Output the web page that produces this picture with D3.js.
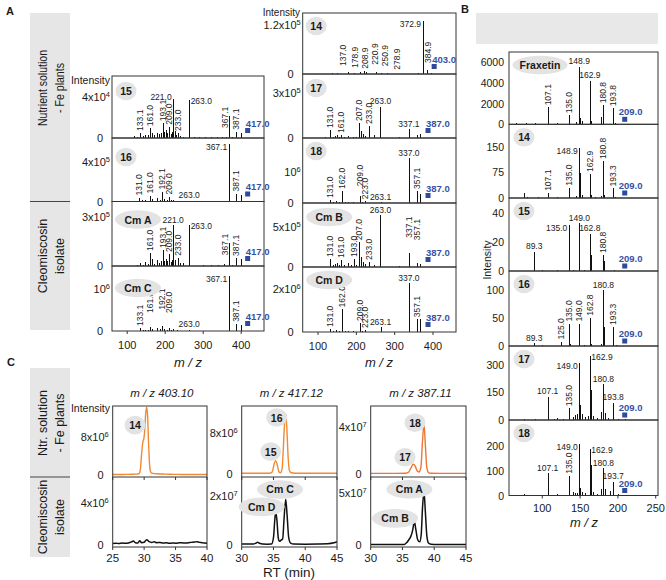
<!DOCTYPE html>
<html><head><meta charset="utf-8">
<script src="https://cdn.jsdelivr.net/npm/d3@7"></script>
<style>
body{margin:0;background:#fff}
svg{display:block}
text{font-family:"Liberation Sans",Arial,Helvetica,sans-serif;fill:#1a1a1a}
</style></head><body>
<svg id="c" width="666" height="580"></svg>
<script>
// ================= DATA =================
const mzTicksA = [100, 200, 300, 400];
const mzTicksB = [100, 150, 200, 250];
const rtTicksL = [25, 30, 35, 40];
const rtTicksR = [30, 35, 40, 45];

// ---- Panel A, Nutrient solution -Fe plants ----
const specA15 = [[118,1500],[125,1000],[133.1,5000],[141,2000],[148,3000],[155,2500],[161.0,9500],[165,5000],[171,3000],[178,4500],[184,3500],[188,5000],[193.1,14500],[198,6000],[203,8000],[206,5000],[209.0,11000],[214,4000],[218,6000],[221.0,38000],[226,7000],[229,3000],[233.0,5000],[240,2000],[248,1000],[263.0,37000],[275,800],[290,800],[305,700],[320,800],[335,900],[350,1000],[360,1200],[367.1,21500],[375,1000],[387.1,6000],[400,5000]];
const labA15 = [[133.1,'v'],[161.0,'v'],[193.1,'v'],[209.0,'v'],[221.0,'hl',43000],[233.0,'v'],[263.0,'hr'],[367.1,'vl'],[387.1,'v']];
const specA16 = [[118,10000],[131.0,40000],[140,15000],[148,20000],[155,10000],[161.0,60000],[166,25000],[178,35000],[185,20000],[192.1,100000],[198,25000],[204,15000],[209.0,50000],[214,15000],[221,20000],[232,10000],[263.0,10000],[300,5000],[340,5000],[367.1,580000],[387.1,80000],[400,70000]];
const labA16 = [[131.0,'v'],[161.0,'v'],[192.1,'v'],[209.0,'v'],[263.0,'h'],[367.1,'hl'],[387.1,'v']];
const specA14 = [[137.0,2500],[150,1500],[178.9,4000],[195,1500],[208.9,5000],[220.9,7000],[226,4000],[250.9,4000],[265,1500],[278.9,2500],[300,1000],[340,1000],[360,2000],[372.9,130000],[384.9,10000],[395,2000]];
const labA14 = [[137.0,'v',14700,165],[178.9,'v',9800,197],[208.9,'v',8000,223],[220.9,'v',18000,248],[250.9,'v',14000,274],[278.9,'v',5600,307],[372.9,'hl'],[384.9,'v',22000,388]];
const specA17 = [[118,5000],[131.0,53000],[138,10000],[145,15000],[150,20000],[155,8000],[161.0,20000],[168,8000],[178,15000],[190,10000],[200,8000],[207.0,100000],[213,50000],[218,25000],[222,15000],[233.0,80000],[246,20000],[263.0,207000],[280,3000],[310,4000],[337.1,60000],[357,20000],[367,27000]];
const labA17 = [[131.0,'v'],[161.0,'v'],[207.0,'v'],[233.0,'v'],[263.0,'h'],[337.1,'h']];
const specA18 = [[118,10000],[131.0,100000],[140,30000],[148,60000],[155,30000],[162.0,390000],[170,20000],[178,30000],[190,20000],[200,15000],[209.0,220000],[215,30000],[223.0,60000],[240,10000],[263.1,30000],[300,10000],[337.0,1440000],[357.1,390000],[367,290000]];
const labA18 = [[131.0,'v'],[162.0,'v'],[209.0,'v',480000],[223.0,'v'],[263.1,'h'],[337.0,'h'],[357.1,'v']];

// ---- Panel A, Cleomiscosin isolate ----
const specCmA = [[118,3000],[125,6000],[133,18000],[141,6000],[148,24000],[155,12000],[161.0,80000],[166,40000],[171,15000],[178,37000],[184,20000],[188,30000],[193.1,98000],[198,30000],[203,40000],[206,30000],[209.0,73000],[214,25000],[218,35000],[221.0,250000],[227,37000],[233.0,50000],[240,20000],[247,18000],[263.0,250000],[280,3000],[300,5000],[320,6000],[340,8000],[355,10000],[367.1,140000],[375,6000],[387.1,49000],[400,43000]];
const labCmA = [[161.0,'v'],[193.1,'v'],[209.0,'v'],[221.0,'h'],[233.0,'v'],[263.0,'hr'],[367.1,'vl'],[387.1,'v']];
const specCmC = [[118,10000],[133.1,70000],[141,20000],[148,30000],[155,20000],[161.0,95000],[166,40000],[178,70000],[185,50000],[192.1,120000],[198,40000],[204,30000],[209.0,70000],[214,20000],[221,40000],[232,20000],[263.0,24000],[300,10000],[340,10000],[367.1,1310000],[387.1,170000],[400,140000]];
const labCmC = [[133.1,'v'],[161.0,'v',380000],[192.1,'v',460000],[209.0,'v',380000],[263.0,'h'],[367.1,'hl'],[387.1,'v']];
const specCmB = [[118,5000],[131.0,100000],[138,25000],[145,40000],[150,50000],[155,20000],[161.0,87500],[168,20000],[178,50000],[185,20000],[193.0,100000],[200,30000],[207.0,310000],[213,125000],[218,60000],[222,40000],[233.0,62000],[246,25000],[263.0,650000],[280,5000],[310,8000],[337.1,170000],[357.1,50000],[367,40000]];
const labCmB = [[131.0,'v'],[161.0,'v'],[193.0,'v'],[207.0,'v'],[233.0,'v'],[263.0,'h'],[337.1,'v',340000],[357.1,'v',310000]];
const specCmD = [[118,20000],[131.0,140000],[140,50000],[148,90000],[155,40000],[162.0,1050000],[170,30000],[178,50000],[190,30000],[200,20000],[209.0,420000],[215,50000],[223.0,90000],[240,20000],[263.1,230000],[300,10000],[337.0,2260000],[357.1,590000],[367,590000]];
const labCmD = [[131.0,'v'],[162.0,'v'],[209.0,'v'],[223.0,'v'],[263.1,'h'],[337.0,'h'],[357.1,'v']];

// ---- Panel B (MS3 of the 209 fragment) ----
const specBFx = [[65,100],[79,80],[91,100],[107.1,1640],[120,100],[135.0,870],[145,200],[148.9,5550],[150.5,600],[153,300],[162.9,4200],[164.5,300],[177,700],[180.8,1850],[193.8,1550],[196,100]];
const labBFx = [[107.1,'v'],[135.0,'v'],[148.9,'h'],[162.9,'h'],[180.8,'v'],[193.8,'v']];
const specB14 = [[76,14],[80,3],[95,2],[107.1,15],[120,2],[135.0,30],[145,5],[148.9,145],[150.3,73],[153,8],[162.9,70],[164.5,8],[170,3],[177,5],[180.8,108],[182,10],[193.3,28],[196,3]];
const labB14 = [[107.1,'v'],[135.0,'v'],[148.9,'hl'],[162.9,'v'],[180.8,'v'],[193.3,'v']];
const specB15 = [[89.3,13.3],[100,0.5],[120,0.5],[135.0,31.7],[140,0.8],[149.0,32.9],[155,0.8],[162.8,25.5],[165,11],[180.8,11],[182,7],[195,0.5]];
const labB15 = [[89.3,'h'],[135.0,'hl'],[149.0,'h'],[162.8,'h'],[180.8,'v']];
const specB16 = [[89.3,5],[100,1],[125.0,8],[135.0,40],[137,3],[149.0,40],[155,2],[162.8,50.5],[165,4],[177,3],[180.8,100],[182,34],[193.3,34],[197,1]];
const labB16 = [[89.3,'h'],[125.0,'v'],[135.0,'v'],[149.0,'v'],[162.8,'v'],[180.8,'h'],[193.3,'v']];
const specB17 = [[76,8],[90,5],[107.1,127],[115,5],[120,10],[128,5],[135.0,64],[140,15],[143,25],[146,30],[149.0,309],[150.5,80],[153,30],[156,15],[160,20],[162.9,350],[164.3,164],[167,20],[172,10],[178,45],[180.8,196],[182.5,40],[187,10],[193.8,94],[200,8],[210,3]];
const labB17 = [[107.1,'h'],[135.0,'v'],[149.0,'hl'],[162.9,'hr'],[180.8,'h'],[193.8,'h']];
const specB18 = [[76,5],[90,3],[107.1,89],[115,3],[120,5],[128,3],[135.0,79],[140,16],[143,10],[146,12],[149.0,205],[150.5,30],[153,15],[157,10],[162.9,187],[164.3,123],[167,15],[172,8],[178,28],[180.8,109],[183,25],[190,20],[193.7,56],[200,5]];
const labB18 = [[107.1,'h'],[135.0,'v'],[149.0,'hl'],[162.9,'hr'],[180.8,'h'],[193.7,'h']];

// ---- Panel C chromatograms [RT min, intensity] ----
const eic403Fe = [[25,1.2e5],[26,1.0e5],[27,1.3e5],[28,1.5e5],[28.8,1.8e5],[29.2,3e5],[29.4,1.2e6],[29.6,4.5e6],[29.8,7e6],[29.95,7.6e6],[30.1,9.5e6],[30.25,1.3e7],[30.4,1.43e7],[30.55,1.25e7],[30.7,7e6],[30.85,2.5e6],[31.0,8e5],[31.2,4e5],[31.6,3e5],[32,2.5e5],[33,2e5],[34,1.5e5],[35,1.3e5],[36,1.2e5],[37,1.2e5],[38,1.1e5],[39,1.1e5],[40,1e5]];
const eic403Cm = [[25,1.5e5],[25.5,1.7e5],[26,1.4e5],[26.5,1.8e5],[27,1.6e5],[27.5,2e5],[28,3e5],[28.3,3.8e5],[28.6,2.2e5],[29,2e5],[29.3,4e5],[29.6,2.2e5],[30,2.6e5],[30.4,5e5],[30.8,3.2e5],[31.2,2.5e5],[31.6,3e5],[32,2.2e5],[32.5,2.4e5],[33,1.9e5],[33.5,2.1e5],[34,1.6e5],[34.5,1.9e5],[35,1.7e5],[35.5,2e5],[36,2.2e5],[36.5,1.8e5],[37,2.1e5],[37.5,2.5e5],[38,2.8e5],[38.4,3.2e5],[38.8,2.5e5],[39.2,2.2e5],[39.6,1.8e5],[40,1.6e5]];
const eic417Fe = [[30,2e5],[31,2e5],[32,2.2e5],[33,2e5],[34,2.1e5],[34.6,2.5e5],[34.9,8e5],[35.1,2e6],[35.35,2.65e6],[35.6,1.8e6],[35.85,5e5],[36.1,3e5],[36.35,1e6],[36.55,5e6],[36.75,1e7],[36.93,1.17e7],[37.1,9e6],[37.3,3.5e6],[37.5,8e5],[37.8,3e5],[38.5,2.2e5],[40,2e5],[42,2.1e5],[44,2e5],[45,2e5]];
const eic417Cm = [[30,4e5],[31,4e5],[31.8,4e5],[32.2,7e5],[32.5,1.1e6],[32.8,7e5],[33.3,4e5],[34,3.5e5],[34.7,4e5],[35.0,3e6],[35.2,1e7],[35.35,1.36e7],[35.55,1e7],[35.75,3e6],[35.95,1.5e6],[36.2,2e6],[36.45,2.5e6],[36.65,1e7],[36.93,1.87e7],[37.15,1.2e7],[37.4,3e6],[37.7,8e5],[38.2,4e5],[40,3.5e5],[42,4e5],[43.5,5e5],[44.5,9e5],[45,1.4e6]];
const eic387Fe = [[30,8e5],[32,8e5],[34,8e5],[35.5,9e5],[36.0,2e6],[36.3,5e6],[36.7,8.5e6],[37.0,7e6],[37.3,3e6],[37.6,2e6],[37.9,6e6],[38.15,2.8e7],[38.39,4.33e7],[38.6,2.5e7],[38.85,5e6],[39.1,1.5e6],[39.5,9e5],[41,8e5],[43,8e5],[45,8e5]];
const eic387Cm = [[30,5e5],[32,5e5],[34,5e5],[35.3,6e5],[35.7,2.5e6],[36.0,5e6],[36.3,8e6],[36.6,1.4e7],[36.87,2.24e7],[37.1,1.5e7],[37.4,5e6],[37.7,3e6],[37.95,1e7],[38.15,3.5e7],[38.39,5.12e7],[38.6,3.2e7],[38.85,8e6],[39.1,2e6],[39.5,8e5],[40.5,5e5],[42.5,5e5],[45,5e5]];
// peak name tags [text, RT, intensity level]
const tags403Fe = [["14",28.55,1.05e7]];
const tags417Fe = [["16",35.5,1.1e7],["15",34.56,4.4e6]];
const tags387Fe = [["18",36.97,4.39e7],["17",35.4,1.45e7]];
const tags417Cm = [["Cm C",36.03,2.27e7],["Cm D",33.15,1.56e7]];
const tags387Cm = [["Cm A",36.08,5.33e7],["Cm B",33.83,2.55e7]];

// ================= DRAW =================
const svg = d3.select('#c');
const BLUE = '#2d4a9b';
const ORANGE = '#f08a34';

function supText(sel, base, exp) {
  sel.append('tspan').text(base);
  if (exp) sel.append('tspan').attr('dy', -4).attr('font-size', '0.68em').text(exp);
}

function nameTag(g, cx, cy, txt) {
  const rx = txt.length > 4 ? 27.5 : (txt.length > 2 ? 23 : 10.5);
  g.append('ellipse').attr('cx', cx).attr('cy', cy).attr('rx', rx).attr('ry', 9.3).attr('fill', '#e3e3e3');
  g.append('text').attr('x', cx).attr('y', cy + 4).attr('text-anchor', 'middle')
    .attr('font-size', 10.5).attr('font-weight', 'bold').text(txt);
}

function spectrum(c) {
  const g = svg.append('g');
  const x = d3.scaleLinear().domain(c.xDomain).range([c.x0, c.x1]);
  const y = d3.scaleLinear().domain([0, c.yMax]).range([c.base, c.top]);
  const px = v => Math.round(x(v)) + 0.5;
  g.append('g').selectAll('line').data(c.peaks).join('line')
    .attr('x1', d => px(d[0])).attr('x2', d => px(d[0]))
    .attr('y1', y(0)).attr('y2', d => y(d[1]))
    .attr('stroke', '#111').attr('stroke-width', 1).attr('shape-rendering', 'crispEdges');
  g.append('rect').attr('x', c.x0).attr('y', c.top).attr('width', c.x1 - c.x0).attr('height', c.base - c.top)
    .attr('fill', 'none').attr('stroke', '#333').attr('stroke-width', 1);
  const fs = c.labelFs;
  c.labels.forEach(([mz, mode, level, atMz]) => {
    const pk = c.peaks.find(p => p[0] === mz);
    const lv = level != null ? level : pk[1];
    const lx = x(atMz != null ? atMz : mz), ly = y(lv);
    const t = g.append('text').attr('font-size', fs).text(mz.toFixed(1));
    if (mode === 'v') t.attr('transform', `translate(${lx + fs * 0.36},${ly - 2}) rotate(-90)`);
    else if (mode === 'vl') t.attr('transform', `translate(${lx - 1},${ly + 12}) rotate(-90)`);
    else if (mode === 'h') t.attr('x', lx).attr('y', ly - 2.5).attr('text-anchor', 'middle');
    else if (mode === 'hl') t.attr('x', lx - 1.5).attr('y', ly + 6).attr('text-anchor', 'end');
    else if (mode === 'hr') t.attr('x', lx + 1.5).attr('y', ly + 4);
  });
  // precursor marker
  const mx = x(c.prec), my = c.base - c.precDy;
  g.append('rect').attr('x', mx - 2.5).attr('y', my - 2.5).attr('width', 5).attr('height', 5).attr('fill', BLUE);
  g.append('text').attr('x', mx + c.precLx).attr('y', my - 4).attr('font-size', c.precFs).attr('font-weight', 'bold')
    .style('fill', '#3552a5').text(c.prec.toFixed(1));
  // y ticks
  c.yTicks.forEach(([v, b, e]) => {
    const t = g.append('text').attr('x', v === 0 ? c.x0 - c.zeroGap : c.x0 - c.tickGap).attr('y', y(v) + 4)
      .attr('text-anchor', 'end').attr('font-size', c.tickFs);
    supText(t, b, e);
  });
  if (c.name) nameTag(g, c.x0 + c.nameDx, c.top + c.nameDy, c.name);
  return x;
}

// ---- Panel A layout ----
const A_DOM = [60, 460];
const AL = {x0: 112, x1: 264}, AR = {x0: 302.7, x1: 456};
const aCommon = {xDomain: A_DOM, labelFs: 8.5, precDy: 7.5, precLx: -2, precFs: 9.5, tickFs: 11, tickGap: 2, zeroGap: 9};
const aLeft = [
  {top: 76, base: 138, yMax: 6.05e4, peaks: specA15, labels: labA15, prec: 417.0, yTicks: [[4e4, '4x10', '4'], [0, '0']], name: '15', nameDy: 15},
  {top: 138, base: 201.5, yMax: 6.35e5, peaks: specA16, labels: labA16, prec: 417.0, yTicks: [[4e5, '4x10', '5'], [0, '0']], name: '16', nameDy: 19},
  {top: 201.5, base: 266, yMax: 3.95e5, peaks: specCmA, labels: labCmA, prec: 417.0, yTicks: [[3e5, '3x10', '5'], [0, '0']], name: 'Cm A', nameDy: 18},
  {top: 266, base: 331, yMax: 1.55e6, peaks: specCmC, labels: labCmC, prec: 417.0, yTicks: [[1e6, '10', '6'], [0, '0']], name: 'Cm C', nameDy: 22}
];
const aRight = [
  {top: 13, base: 74, yMax: 1.49e5, peaks: specA14, labels: labA14, prec: 403.0, yTicks: [[1.2e5, '1.2x10', '5'], [0, '0']], name: '14', nameDy: 13},
  {top: 74, base: 138, yMax: 4.27e5, peaks: specA17, labels: labA17, prec: 387.0, yTicks: [[3e5, '3x10', '5'], [0, '0']], name: '17', nameDy: 14},
  {top: 138, base: 203, yMax: 2.1e6, peaks: specA18, labels: labA18, prec: 387.0, yTicks: [[1e6, '10', '6'], [0, '0']], name: '18', nameDy: 13},
  {top: 203, base: 267, yMax: 8e5, peaks: specCmB, labels: labCmB, prec: 387.0, yTicks: [[5e5, '5x10', '5'], [0, '0']], name: 'Cm B', nameDy: 14},
  {top: 267, base: 332, yMax: 3.02e6, peaks: specCmD, labels: labCmD, prec: 387.0, yTicks: [[2e6, '2x10', '6'], [0, '0']], name: 'Cm D', nameDy: 13}
];
let xAL, xAR;
aLeft.forEach(p => { xAL = spectrum(Object.assign({}, aCommon, AL, p, {nameDx: p.name.length > 2 ? 26 : 14})); });
aRight.forEach(p => { xAR = spectrum(Object.assign({}, aCommon, AR, p, {nameDx: p.name.length > 2 ? 26.5 : 13.5})); });

function xAxisA(x, base, cx) {
  const g = svg.append('g');
  mzTicksA.forEach(v => {
    g.append('line').attr('x1', x(v)).attr('x2', x(v)).attr('y1', base).attr('y2', base + 3).attr('stroke', '#333');
    g.append('text').attr('x', x(v)).attr('y', base + 18).attr('text-anchor', 'middle').attr('font-size', 11).text(v);
  });
  g.append('text').attr('x', cx).attr('y', 367).attr('text-anchor', 'middle').attr('font-size', 13)
    .attr('font-style', 'italic').text('m / z');
}
xAxisA(xAL, 331, 188);
xAxisA(xAR, 332, 379);
svg.append('text').attr('x', 110).attr('y', 84).attr('text-anchor', 'end').attr('font-size', 10.5).text('Intensity');
svg.append('text').attr('x', 300).attr('y', 16).attr('text-anchor', 'end').attr('font-size', 10).text('Intensity');

// ---- Panel B ----
const BX = {x0: 509, x1: 658};
const bCommon = {xDomain: [56, 253], labelFs: 8.5, precDy: 5, precLx: -6, precFs: 9.5, tickFs: 10.5, tickGap: 5, zeroGap: 5};
const bRows = [
  {top: 52, base: 124.3, yMax: 6997, peaks: specBFx, labels: labBFx, yTicks: [[6000, '6000'], [4000, '4000'], [2000, '2000'], [0, '0']], name: 'Fraxetin', nameDx: 31},
  {top: 124.3, base: 198, yMax: 215.5, peaks: specB14, labels: labB14, yTicks: [[150, '150'], [75, '75'], [0, '0']], name: '14'},
  {top: 198, base: 271, yMax: 50.1, peaks: specB15, labels: labB15, yTicks: [[40, '40'], [20, '20'], [0, '0']], name: '15'},
  {top: 271, base: 346, yMax: 134, peaks: specB16, labels: labB16, yTicks: [[100, '100'], [50, '50'], [0, '0']], name: '16'},
  {top: 346, base: 420, yMax: 403.6, peaks: specB17, labels: labB17, yTicks: [[300, '300'], [150, '150'], [0, '0']], name: '17'},
  {top: 420, base: 495.5, yMax: 303, peaks: specB18, labels: labB18, yTicks: [[200, '200'], [100, '100'], [0, '0']], name: '18'}
];
let xB;
bRows.forEach(p => { xB = spectrum(Object.assign({}, bCommon, BX, {prec: 209.0, nameDx: 15, nameDy: 13}, p)); });
mzTicksB.forEach(v => {
  svg.append('line').attr('x1', xB(v)).attr('x2', xB(v)).attr('y1', 495.5).attr('y2', 498.5).attr('stroke', '#333');
  svg.append('text').attr('x', xB(v)).attr('y', 512).attr('text-anchor', 'middle').attr('font-size', 11).text(v);
});
svg.append('text').attr('x', 584).attr('y', 527).attr('text-anchor', 'middle').attr('font-size', 13)
  .attr('font-style', 'italic').text('m / z');
svg.append('text').attr('transform', 'translate(491,260) rotate(-90)').attr('text-anchor', 'middle')
  .attr('font-size', 10.5).text('Intensity');
svg.append('rect').attr('x', 476).attr('y', 13).attr('width', 182).attr('height', 31).attr('fill', '#e8e8e8');

// ---- Panel C ----
function chrom(c) {
  const g = svg.append('g');
  const top = 406, mid = 477, bot = 547;
  const x = d3.scaleLinear().domain(c.xDomain).range([c.x0, c.x1]);
  const yT = d3.scaleLinear().domain(c.topDomain).range([mid, top]);
  const yB = d3.scaleLinear().domain(c.botDomain).range([bot, mid]);
  const id = 'clip' + Math.round(c.x0);
  const defs = g.append('defs');
  defs.append('clipPath').attr('id', id + 't').append('rect').attr('x', c.x0).attr('y', top).attr('width', c.x1 - c.x0).attr('height', mid - top);
  defs.append('clipPath').attr('id', id + 'b').append('rect').attr('x', c.x0).attr('y', mid).attr('width', c.x1 - c.x0).attr('height', bot - mid);
  g.append('path').attr('clip-path', `url(#${id}t)`).attr('d', d3.line().x(d => x(d[0])).y(d => yT(d[1])).curve(d3.curveMonotoneX)(c.topData))
    .attr('fill', 'none').attr('stroke', c.topColor).attr('stroke-width', 1.4);
  g.append('path').attr('clip-path', `url(#${id}b)`).attr('d', d3.line().x(d => x(d[0])).y(d => yB(d[1])).curve(d3.curveMonotoneX)(c.botData))
    .attr('fill', 'none').attr('stroke', '#111').attr('stroke-width', 1.5);
  g.append('rect').attr('x', c.x0).attr('y', top).attr('width', c.x1 - c.x0).attr('height', bot - top)
    .attr('fill', 'none').attr('stroke', '#333');
  g.append('line').attr('x1', c.x0).attr('x2', c.x1).attr('y1', mid).attr('y2', mid).attr('stroke', '#333');
  c.xTicks.forEach(v => {
    [mid, bot].forEach(yy => g.append('line').attr('x1', x(v)).attr('x2', x(v)).attr('y1', yy).attr('y2', yy + 3).attr('stroke', '#333'));
    g.append('text').attr('x', x(v)).attr('y', 561.5).attr('text-anchor', 'middle').attr('font-size', 11.5).text(v);
  });
  c.topTicks.forEach(([v, b, e]) => {
    const t = g.append('text').attr('x', v === 0 ? c.x0 - 9 : c.x0 - 4).attr('y', yT(v) + 4).attr('text-anchor', 'end').attr('font-size', 11);
    supText(t, b, e);
  });
  c.botTicks.forEach(([v, b, e]) => {
    const t = g.append('text').attr('x', v === 0 ? c.x0 - 9 : c.x0 - 4).attr('y', yB(v) + 4).attr('text-anchor', 'end').attr('font-size', 11);
    supText(t, b, e);
  });
  c.topTags.forEach(([txt, rt, v]) => nameTag(g, x(rt), yT(v), txt));
  c.botTags.forEach(([txt, rt, v]) => nameTag(g, x(rt), yB(v), txt));
  g.append('text').attr('x', (c.x0 + c.x1) / 2 + 2).attr('y', 397).attr('text-anchor', 'middle')
    .attr('font-size', 11.5).attr('font-style', 'italic').text(c.title);
}
chrom({x0: 112.7, x1: 207, xDomain: [25, 40], xTicks: rtTicksL, topDomain: [-4.2e5, 1.453e7], botDomain: [-1.9e5, 6.47e6],
  topData: eic403Fe, botData: eic403Cm, topColor: ORANGE, topTicks: [[8e6, '8x10', '6'], [0, '0']], botTicks: [[4e6, '4x10', '6'], [0, '0']],
  topTags: tags403Fe, botTags: [], title: 'm / z 403.10'});
chrom({x0: 241.7, x1: 337, xDomain: [30, 45], xTicks: rtTicksR, topDomain: [-5.2e5, 1.323e7], botDomain: [-8.2e5, 2.78e7],
  topData: eic417Fe, botData: eic417Cm, topColor: ORANGE, topTicks: [[8e6, '8x10', '6'], [0, '0']], botTicks: [[2e7, '2x10', '7'], [0, '0']],
  topTags: tags417Fe, botTags: tags417Cm, title: 'm / z 417.12'});
chrom({x0: 370.7, x1: 466, xDomain: [30, 45], xTicks: rtTicksR, topDomain: [-2.3e6, 5.81e7], botDomain: [-1.9e6, 6.5e7],
  topData: eic387Fe, botData: eic387Cm, topColor: '#ec7634', topTicks: [[4e7, '4x10', '7'], [0, '0']], botTicks: [[5e7, '5x10', '7'], [0, '0']],
  topTags: tags387Fe, botTags: tags387Cm, title: 'm / z 387.11'});
svg.append('text').attr('x', 110).attr('y', 412).attr('text-anchor', 'end').attr('font-size', 10.5).text('Intensity');
svg.append('text').attr('x', 289).attr('y', 577).attr('text-anchor', 'middle').attr('font-size', 13.5).text('RT (min)');

// ---- side label boxes ----
function sideBox(y0, y1, lines, cy, fs, lens) {
  svg.append('rect').attr('x', 30).attr('y', y0).attr('width', 40).attr('height', y1 - y0).attr('fill', '#e6e6e6');
  lines.forEach((s, i) => {
    const t = svg.append('text').attr('transform', `translate(${46.5 + i * 17},${cy}) rotate(-90)`).attr('text-anchor', 'middle')
      .attr('font-size', fs).text(s);
    if (lens && lens[i]) t.attr('textLength', lens[i]).attr('lengthAdjust', 'spacingAndGlyphs');
  });
}
sideBox(13, 201, ['Nutrient solution', '- Fe plants'], 88, 12, [76, 50]);
sideBox(202, 330, ['Cleomiscosin', 'isolate'], 256, 12.5);
sideBox(368, 477, ['Ntr. solution', '- Fe plants'], 423, 12.5);
sideBox(477, 557, ['Cleomiscosin', 'isolate'], 517, 12.5);
svg.append('line').attr('x1', 30).attr('x2', 70).attr('y1', 201.5).attr('y2', 201.5).attr('stroke', '#444');
svg.append('line').attr('x1', 30).attr('x2', 70).attr('y1', 477).attr('y2', 477).attr('stroke', '#444');

// panel letters
[['A', 6, 15], ['B', 461, 13], ['C', 7, 366]].forEach(([t, x, y]) =>
  svg.append('text').attr('x', x).attr('y', y).attr('font-size', 11).attr('font-weight', 'bold').text(t));
</script></body></html>
